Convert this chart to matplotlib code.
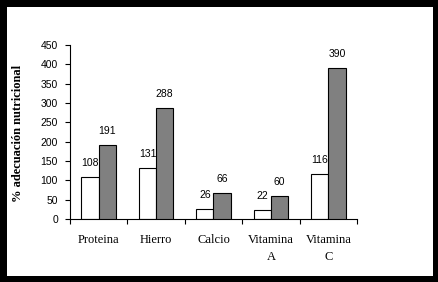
import numpy as np
import matplotlib
matplotlib.use("Agg")
import matplotlib.pyplot as plt

# data
categorias = ["Proteina", "Hierro", "Calcio", "Vitamina\nA", "Vitamina\nC"]
serie_blanca = [108, 131, 26, 22, 116]
serie_gris = [191, 288, 66, 60, 390]
yticks = [0, 50, 100, 150, 200, 250, 300, 350, 400, 450]

fig = plt.figure(figsize=(4.39, 2.82), dpi=100)
fig.patch.set_facecolor("white")
fig.patch.set_edgecolor("black")
fig.patch.set_linewidth(8)

ax = fig.add_axes([70/439, 1 - 219/282, 287/439, 174/282])

x = np.arange(len(categorias))
w = 0.3
ax.bar(x - w/2, serie_blanca, w, color="white", edgecolor="black", linewidth=0.8, zorder=1)
ax.bar(x + w/2, serie_gris, w, color="#808080", edgecolor="black", linewidth=0.8, zorder=3)

num_font = dict(family="Liberation Sans", size=7.5)
for xi, v in zip(x, serie_blanca):
    ax.annotate(str(v), (xi - w/2, v), xytext=(0, 6.5), textcoords="offset points",
                ha="center", va="bottom", zorder=2, **num_font)
for xi, v in zip(x, serie_gris):
    ax.annotate(str(v), (xi + w/2, v), xytext=(0, 6.5), textcoords="offset points",
                ha="center", va="bottom", zorder=4, **num_font)

ax.set_xlim(-0.5, len(categorias) - 0.5)
ax.set_ylim(0, 450)
ax.set_yticks(yticks)
ax.set_yticklabels([str(t) for t in yticks], **num_font)
ax.tick_params(axis="y", direction="out", length=3.6, width=0.8, pad=5)

# category boundaries as major ticks, names as minor ticks
ax.set_xticks(np.arange(-0.5, len(categorias), 1.0))
ax.set_xticklabels([])
ax.set_xticks(x, minor=True)
ax.set_xticklabels(categorias, minor=True, family="Liberation Serif", size=9,
                   linespacing=1.5, va="top")
ax.tick_params(axis="x", which="major", direction="out", length=3.6, width=0.8)
ax.tick_params(axis="x", which="minor", length=0, pad=11)

for s in ["top", "right"]:
    ax.spines[s].set_visible(False)
for s in ["left", "bottom"]:
    ax.spines[s].set_linewidth(0.8)

ax.set_ylabel("% adecuación nutricional", family="Liberation Serif",
              fontweight="bold", size=9)
ax.yaxis.set_label_coords(-0.162, 0.49)

fig.savefig("out.png", dpi=100, facecolor="white", edgecolor="black")
